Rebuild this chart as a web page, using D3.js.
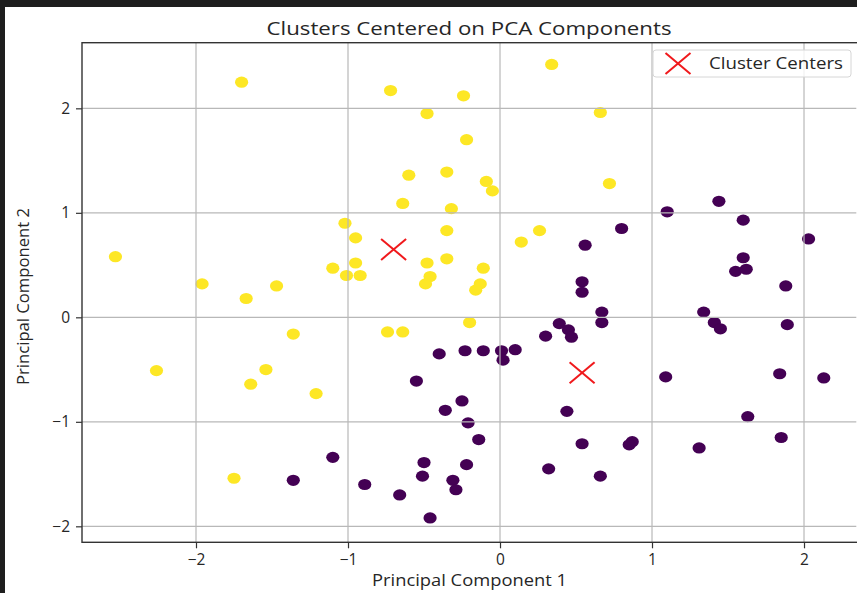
<!DOCTYPE html>
<html>
<head>
<meta charset="utf-8">
<style>
body {
  margin: 0;
  background-color: #1e1e1e;
}
.tick text {
  font-family: "Open Sans", sans-serif;
  font-size: 15.5px;
  fill: #262626;
}
.grid line {
  stroke: #b8b8b8;
  stroke-width: 1.2;
}
</style>
<title>Clusters Centered on PCA Components</title>
<script src="https://d3js.org/d3.v7.min.js"></script>
</head>
<body>
<svg id="chart" width="857" height="593"></svg>
<script>

// cluster 1 (yellow)
var yellowX = [-1.70, -0.72, -0.24, 0.34, -0.48, 0.66, -0.22, -0.60, -0.35, -0.09, -0.05, 0.72, -0.64, -0.32,
  -1.02, -0.95, -0.35, 0.26, 0.14, -2.53, -1.10, -0.95, -1.01, -0.92, -0.48, -0.35, -0.11, -0.46, -0.49,
  -0.13, -0.16, -1.96, -1.67, -1.47, -1.36, -2.26, -1.54, -1.64, -1.21, -0.74, -0.64, -0.20, -1.75];
var yellowY = [2.25, 2.17, 2.12, 2.42, 1.95, 1.96, 1.70, 1.36, 1.39, 1.30, 1.21, 1.28, 1.09, 1.04,
  0.90, 0.76, 0.83, 0.83, 0.72, 0.58, 0.47, 0.52, 0.40, 0.40, 0.52, 0.56, 0.47, 0.39, 0.32,
  0.32, 0.26, 0.32, 0.18, 0.30, -0.16, -0.51, -0.50, -0.64, -0.73, -0.14, -0.14, -0.05, -1.54];

// cluster 0 (purple)
var purpleX = [1.44, 1.10, 1.60, 0.80, 2.03, 0.56, 1.60, 1.55, 1.62, 1.88, 0.54, 0.54, 0.67, 0.67,
  1.34, 1.41, 1.45, 1.89, 0.39, 0.45, 0.47, 0.30, 0.10, 0.01, 0.02, -0.11, -0.23, -0.40, -0.55,
  1.09, 1.84, 2.13, -0.25, -0.36, 0.44, 1.63, -0.21, -0.14, 0.54, 0.87, 0.85, 1.85, 1.31, -1.10,
  -0.50, -0.22, 0.32, -0.51, 0.66, -0.89, -0.31, -0.29, -0.66, -0.46, -1.36];
var purpleY = [1.11, 1.01, 0.93, 0.85, 0.75, 0.69, 0.57, 0.44, 0.46, 0.30, 0.34, 0.24, 0.05, -0.05,
  0.05, -0.05, -0.11, -0.07, -0.06, -0.12, -0.19, -0.18, -0.31, -0.32, -0.41, -0.32, -0.32, -0.35, -0.61,
  -0.57, -0.54, -0.58, -0.80, -0.89, -0.90, -0.95, -1.01, -1.17, -1.21, -1.19, -1.22, -1.15, -1.25, -1.34,
  -1.39, -1.41, -1.45, -1.52, -1.52, -1.60, -1.56, -1.65, -1.70, -1.92, -1.56];

var centerX = [-0.70, 0.54];
var centerY = [0.65, -0.53];

var xTicks = [-2, -1, 0, 1, 2];
var yTicks = [-2, -1, 0, 1, 2];

var svg = d3.select("#chart");

// white figure area inside the dark frame of the screenshot
svg.append("rect").attr("x", 5).attr("y", 7).attr("width", 852).attr("height", 586).attr("fill", "white");

var pLeft = 82, pRight = 856.3, pTop = 42.7, pBottom = 542.3;

var x = d3.scaleLinear().domain([-2.75, 2.344]).range([pLeft, pRight]);
var y = d3.scaleLinear().domain([-2.153, 2.628]).range([pBottom, pTop]);

var points = yellowX.map(function(d, i) { return {x: d, y: yellowY[i], c: "#fde725"}; })
  .concat(purpleX.map(function(d, i) { return {x: d, y: purpleY[i], c: "#440154"}; }));

svg.append("g").selectAll("ellipse")
  .data(points)
  .enter().append("ellipse")
  .attr("cx", function(d) { return x(d.x); })
  .attr("cy", function(d) { return y(d.y); })
  .attr("rx", 6.6)
  .attr("ry", 5.6)
  .attr("fill", function(d) { return d.c; });

// grid sits above the scatter like in matplotlib
svg.append("g").attr("class", "grid")
  .selectAll("line").data(xTicks).enter().append("line")
  .attr("x1", function(d) { return x(d); }).attr("x2", function(d) { return x(d); })
  .attr("y1", pTop).attr("y2", pBottom);
svg.append("g").attr("class", "grid")
  .selectAll("line").data(yTicks).enter().append("line")
  .attr("x1", pLeft).attr("x2", pRight)
  .attr("y1", function(d) { return y(d); }).attr("y2", function(d) { return y(d); });

// axes
var fmt = d3.format("d");
var xAxis = svg.append("g")
  .attr("transform", "translate(0," + pBottom + ")")
  .call(d3.axisBottom(x).tickValues(xTicks).tickFormat(fmt).tickSize(6).tickPadding(6));
var yAxis = svg.append("g")
  .attr("transform", "translate(" + pLeft + ",0)")
  .call(d3.axisLeft(y).tickValues(yTicks).tickFormat(fmt).tickSize(6).tickPadding(6));
xAxis.select(".domain").remove();
yAxis.select(".domain").remove();
svg.selectAll(".tick line").attr("stroke", "#333").attr("stroke-width", 1.2);
xAxis.selectAll("text").attr("dy", "0.71em");

// spines (right one falls just outside the screenshot)
svg.append("rect")
  .attr("x", pLeft).attr("y", pTop)
  .attr("width", pRight - pLeft + 4).attr("height", pBottom - pTop)
  .attr("fill", "none").attr("stroke", "#333").attr("stroke-width", 1.4);

// cluster centers
function cross(g, cx, cy) {
  g.append("line").attr("x1", cx - 12.5).attr("y1", cy - 10.5).attr("x2", cx + 12.5).attr("y2", cy + 10.5);
  g.append("line").attr("x1", cx - 12.5).attr("y1", cy + 10.5).attr("x2", cx + 12.5).attr("y2", cy - 10.5);
}
var centers = svg.append("g").attr("stroke", "#f0191c").attr("stroke-width", 2);
centerX.forEach(function(d, i) { cross(centers, x(d), y(centerY[i])); });

// titles
svg.append("text").text("Clusters Centered on PCA Components")
  .attr("x", 469).attr("y", 34.5).attr("text-anchor", "middle")
  .attr("textLength", 405).attr("lengthAdjust", "spacingAndGlyphs")
  .style("font-family", "Open Sans, sans-serif").style("font-size", "19px").style("fill", "#262626");
svg.append("text").text("Principal Component 1")
  .attr("x", 469.5).attr("y", 586).attr("text-anchor", "middle")
  .attr("textLength", 195).attr("lengthAdjust", "spacingAndGlyphs")
  .style("font-family", "Open Sans, sans-serif").style("font-size", "15.5px").style("fill", "#262626");
svg.append("text").text("Principal Component 2")
  .attr("transform", "translate(29,296.5) rotate(-90)").attr("text-anchor", "middle")
  .attr("textLength", 177).attr("lengthAdjust", "spacingAndGlyphs")
  .style("font-family", "Open Sans, sans-serif").style("font-size", "15.5px").style("fill", "#262626");

// legend
var legend = svg.append("g");
legend.append("rect").attr("x", 653).attr("y", 50).attr("width", 198).attr("height", 27).attr("rx", 3)
  .attr("fill", "white").attr("fill-opacity", 0.8).attr("stroke", "#d6d6d6");
var lg = legend.append("g").attr("stroke", "#f0191c").attr("stroke-width", 2);
cross(lg, 678, 63.5);
legend.append("text").text("Cluster Centers")
  .attr("x", 709).attr("y", 69)
  .attr("textLength", 134).attr("lengthAdjust", "spacingAndGlyphs")
  .style("font-family", "Open Sans, sans-serif").style("font-size", "15.5px").style("fill", "#262626");

</script>
</body>
</html>
